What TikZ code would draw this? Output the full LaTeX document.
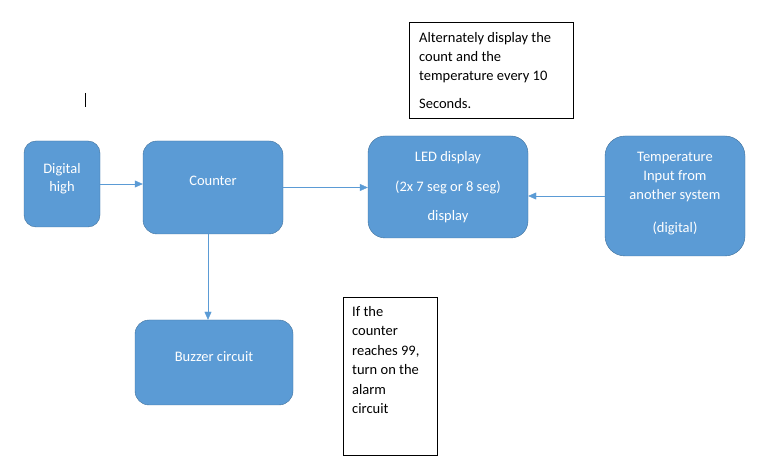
\documentclass[tikz,border=0pt]{standalone}
\usepackage{fontspec}
\setmainfont{Carlito}
\usepackage{xcolor}
\usepackage{tikz}
\usetikzlibrary{arrows.meta,calc}
\definecolor{blockbg}{RGB}{91,155,213}
\definecolor{blockbar}{RGB}{65,113,156}
\definecolor{linkcol}{RGB}{91,155,213}

\begin{document}
\begin{tikzpicture}[x=1pt, y=-1pt, font=\fontsize{14.5}{18}\selectfont, >={Triangle[length=8pt, width=7pt]},
  blk/.style={draw=blockbar, fill=blockbg, text=white, rounded corners=14pt, align=center, inner sep=0pt},
  note/.style={draw=black, line width=0.9pt, inner sep=0pt},
  ntext/.style={anchor=north west, align=left, inner sep=0pt}]
  \useasboundingbox (0,0) rectangle (764,465);
  \node[blk, minimum width=76, minimum height=86, rounded corners=12pt] (high) at (62,184) {Digital\\high\\[-4pt]};
  \node[blk, minimum width=140, minimum height=93] (counter) at (213,187.5) {Counter\\[-5pt]};
  \node[blk, minimum width=160, minimum height=102, rounded corners=17pt] (led) at (448,187) {LED display\\[12pt](2x 7 seg or 8 seg)\\[11pt]display};
  \node[blk, minimum width=140, minimum height=120, rounded corners=20pt] (temp) at (675,196) {Temperature\\[1pt]Input from\\[1pt]another system\\[15pt](digital)\\[-10pt]};
  \node[blk, minimum width=158, minimum height=85] (buzzer) at (214,362.5) {Buzzer circuit\\[-7pt]};
  \node[note, minimum width=164, minimum height=96] (note1) at (491,70) {};
  \node[ntext] (note1t) at (419,32) {Alternately display the\\[1pt]count and the\\[1pt]temperature every 10\\[10pt]Seconds.};
  \node[note, minimum width=94, minimum height=158] (note2) at (390,376) {};
  \node[ntext] (note2t) at (352,306) {If the\\[1.5pt]counter\\[1.5pt]reaches 99,\\[1.5pt]turn on the\\[1.5pt]alarm\\[1.5pt]circuit};
  \coordinate (caret) at (85,93);
  \draw[black, line width=0.9pt] (caret) -- ++(0,14);
  \draw[->, linkcol] (high.east) -- (high.east -| counter.west); \draw[->, linkcol] (counter.east) -- (counter.east -| led.west);
  \draw[->, linkcol] (temp.west) -- (temp.west -| led.east);
  \draw[->, linkcol] ([xshift=-5pt]counter.south) -- ([xshift=-5pt]counter.south |- buzzer.north);
\end{tikzpicture}
\end{document}
